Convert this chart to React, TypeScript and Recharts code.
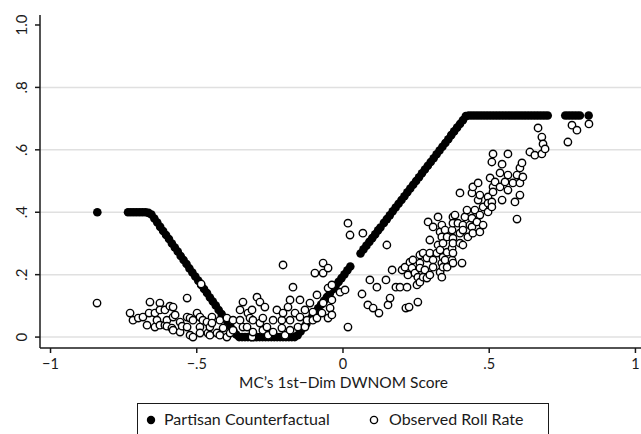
import React from "react";
import { ScatterChart, Scatter, XAxis, YAxis, CartesianGrid } from "recharts";

// axis ticks
const xTickValues = [-1, -0.5, 0, 0.5, 1];
const xTickLabels = ["−1", "−.5", "0", ".5", "1"];
const yTickValues = [0, 0.2, 0.4, 0.6, 0.8, 1];
const yTickLabels = ["0", ".2", ".4", ".6", ".8", "1.0"];
const yGridValues = [0, 0.2, 0.4, 0.6, 0.8];

// Partisan Counterfactual (filled dots)
const pcX = [
  -0.84, -0.735, -0.725, -0.715, -0.705, -0.695, -0.685, -0.675, -0.665,
  -0.655, -0.645, -0.635, -0.625, -0.615, -0.605, -0.595, -0.585, -0.575, -0.565,
  -0.555, -0.545, -0.535, -0.525, -0.515, -0.505, -0.495, -0.485, -0.475, -0.465,
  -0.455, -0.445, -0.435, -0.425, -0.415, -0.405, -0.395, -0.385, -0.375, -0.365,
  -0.355, -0.345, -0.335, -0.325, -0.315, -0.305, -0.295, -0.285, -0.275, -0.265,
  -0.255, -0.245, -0.235, -0.225, -0.215, -0.205, -0.195, -0.185, -0.175, -0.165,
  -0.155, -0.145, -0.135, -0.125, -0.115, -0.105, -0.095, -0.085, -0.075, -0.065,
  -0.055, -0.045, -0.035, -0.025, -0.015, -0.005, 0.005, 0.015, 0.025,
  0.06, 0.07, 0.08, 0.09, 0.1, 0.11, 0.12, 0.128,
  0.14, 0.15, 0.16, 0.17, 0.18, 0.19, 0.2, 0.21, 0.22, 0.23, 0.24, 0.25, 0.26, 0.27,
  0.28, 0.29, 0.3, 0.31, 0.32, 0.33, 0.34, 0.35, 0.36, 0.37, 0.38, 0.39, 0.4, 0.41, 0.42,
  0.43, 0.44, 0.45, 0.46, 0.47, 0.48, 0.49, 0.5, 0.51, 0.52, 0.53, 0.54, 0.55, 0.56,
  0.57, 0.58, 0.59, 0.6, 0.61, 0.62, 0.63, 0.64, 0.65, 0.66, 0.67, 0.68, 0.69, 0.7,
  0.76, 0.77, 0.78, 0.79, 0.8, 0.81, 0.84,
];
const pcY = [
  0.4, 0.4, 0.4, 0.4, 0.4, 0.4, 0.4, 0.4, 0.398,
  0.393, 0.38, 0.367, 0.353, 0.34, 0.327, 0.314, 0.3, 0.287, 0.274,
  0.26, 0.247, 0.234, 0.22, 0.207, 0.194, 0.181, 0.167, 0.154, 0.141,
  0.127, 0.114, 0.101, 0.087, 0.074, 0.061, 0.048, 0.034, 0.021, 0.008,
  0, 0, 0, 0, 0, 0, 0, 0, 0, 0,
  0, 0, 0, 0, 0, 0, 0, 0, 0, 0,
  0.006, 0.018, 0.031, 0.043, 0.055, 0.067, 0.079, 0.092, 0.104, 0.116,
  0.128, 0.14, 0.153, 0.165, 0.177, 0.189, 0.201, 0.214, 0.226,
  0.268, 0.281, 0.293, 0.305, 0.317, 0.329, 0.342, 0.351,
  0.366, 0.378, 0.39, 0.403, 0.415, 0.427, 0.439, 0.451, 0.464, 0.476, 0.488, 0.5, 0.512, 0.525,
  0.537, 0.549, 0.561, 0.573, 0.586, 0.598, 0.61, 0.622, 0.634, 0.647, 0.659, 0.671, 0.683, 0.695, 0.708,
  0.71, 0.71, 0.71, 0.71, 0.71, 0.71, 0.71, 0.71, 0.71, 0.71, 0.71, 0.71, 0.71, 0.71,
  0.71, 0.71, 0.71, 0.71, 0.71, 0.71, 0.71, 0.71, 0.71, 0.71, 0.71, 0.71, 0.71, 0.71,
  0.71, 0.71, 0.71, 0.71, 0.71, 0.71, 0.71,
];

// Observed Roll Rate (hollow circles), [x, y]
const observedLeft: [number, number][] = [
  [-0.841, 0.109],
  [-0.728, 0.077], [-0.718, 0.054], [-0.7, 0.061], [-0.684, 0.064], [-0.67, 0.038],
  [-0.66, 0.112], [-0.663, 0.077], [-0.643, 0.077], [-0.643, 0.032], [-0.636, 0.054],
  [-0.626, 0.109], [-0.626, 0.087], [-0.626, 0.038], [-0.609, 0.087], [-0.609, 0.038],
  [-0.602, 0.054], [-0.602, 0.035], [-0.592, 0.099], [-0.585, 0.029], [-0.581, 0.096],
  [-0.581, 0.064], [-0.581, 0.022], [-0.574, 0.071], [-0.557, 0.048], [-0.557, 0.016],
  [-0.55, 0.035], [-0.533, 0.125], [-0.533, 0.064], [-0.533, 0.032], [-0.523, 0.061],
  [-0.523, 0.006], [-0.513, 0.054], [-0.513, 0.0], [-0.499, 0.077], [-0.489, 0.064],
  [-0.489, 0.032], [-0.489, 0.013], [-0.485, 0.17], [-0.479, 0.054], [-0.465, 0.048],
  [-0.462, 0.013], [-0.455, 0.032], [-0.455, 0.006], [-0.448, 0.064], [-0.448, 0.045],
  [-0.431, 0.013], [-0.421, 0.054], [-0.421, 0.006], [-0.41, 0.029], [-0.397, 0.061],
  [-0.397, 0.0], [-0.386, 0.013], [-0.376, 0.054], [-0.376, 0.022], [-0.352, 0.087],
  [-0.352, 0.054], [-0.342, 0.112], [-0.342, 0.032],
];
const observedMiddle: [number, number][] = [
  [-0.328, 0.032], [-0.325, 0.077], [-0.318, 0.061], [-0.311, 0.087], [-0.311, 0.0],
  [-0.308, 0.054], [-0.308, 0.016], [-0.294, 0.128], [-0.284, 0.112], [-0.284, 0.045],
  [-0.274, 0.061], [-0.274, 0.022], [-0.267, 0.096], [-0.26, 0.032], [-0.256, 0.006],
  [-0.239, 0.054], [-0.239, 0.016], [-0.226, 0.087], [-0.209, 0.054], [-0.209, 0.029],
  [-0.205, 0.231], [-0.205, 0.077], [-0.198, 0.006], [-0.188, 0.096], [-0.181, 0.119],
  [-0.181, 0.054], [-0.181, 0.022], [-0.171, 0.16], [-0.164, 0.077], [-0.154, 0.032],
  [-0.147, 0.119], [-0.147, 0.064], [-0.13, 0.087], [-0.13, 0.032], [-0.123, 0.054],
  [-0.113, 0.109], [-0.103, 0.08], [-0.103, 0.054], [-0.096, 0.205], [-0.089, 0.135],
  [-0.089, 0.061], [-0.072, 0.077], [-0.068, 0.237], [-0.068, 0.205], [-0.068, 0.109],
  [-0.051, 0.221], [-0.051, 0.157], [-0.051, 0.061], [-0.044, 0.093], [-0.038, 0.167],
  [-0.038, 0.119], [-0.038, 0.071], [-0.01, 0.144], [0.007, 0.151], [0.017, 0.365],
  [0.017, 0.032], [0.024, 0.327],
];
const observedRight: [number, number][] = [
  [0.065, 0.138], [0.068, 0.333], [0.085, 0.103], [0.092, 0.183], [0.103, 0.093],
  [0.116, 0.16], [0.123, 0.077], [0.147, 0.183], [0.15, 0.295], [0.154, 0.103],
  [0.161, 0.125], [0.168, 0.215], [0.181, 0.16], [0.195, 0.16], [0.202, 0.215],
  [0.212, 0.224], [0.215, 0.093], [0.219, 0.16], [0.222, 0.199], [0.226, 0.096],
  [0.229, 0.24], [0.236, 0.221], [0.239, 0.247], [0.246, 0.205], [0.253, 0.167],
  [0.256, 0.112], [0.256, 0.192], [0.263, 0.263], [0.263, 0.237], [0.263, 0.221],
  [0.263, 0.176], [0.274, 0.269], [0.274, 0.192], [0.28, 0.215], [0.287, 0.253],
  [0.287, 0.189], [0.291, 0.369], [0.297, 0.311], [0.297, 0.269], [0.297, 0.199],
  [0.308, 0.353], [0.308, 0.247], [0.308, 0.224], [0.321, 0.269], [0.325, 0.385],
  [0.325, 0.295], [0.332, 0.337], [0.332, 0.279], [0.332, 0.208], [0.338, 0.359],
  [0.338, 0.321], [0.338, 0.237], [0.338, 0.192], [0.342, 0.301], [0.342, 0.256],
  [0.342, 0.224], [0.349, 0.343], [0.349, 0.247], [0.356, 0.321], [0.356, 0.272],
  [0.356, 0.224], [0.373, 0.343], [0.373, 0.285], [0.373, 0.247], [0.376, 0.385],
  [0.376, 0.365], [0.376, 0.317], [0.376, 0.301], [0.376, 0.269], [0.376, 0.237],
  [0.383, 0.391], [0.393, 0.365], [0.4, 0.462], [0.4, 0.333], [0.4, 0.301],
  [0.407, 0.237], [0.41, 0.359], [0.41, 0.343], [0.41, 0.295], [0.417, 0.385],
  [0.424, 0.407], [0.427, 0.321], [0.434, 0.359], [0.441, 0.462], [0.441, 0.381],
  [0.441, 0.353], [0.444, 0.481], [0.444, 0.333], [0.451, 0.407], [0.458, 0.369],
  [0.462, 0.494], [0.462, 0.439], [0.468, 0.455], [0.468, 0.391], [0.468, 0.337],
  [0.479, 0.417], [0.479, 0.359], [0.496, 0.449], [0.496, 0.429], [0.496, 0.401],
  [0.503, 0.51], [0.509, 0.561], [0.509, 0.433], [0.509, 0.417], [0.513, 0.587],
  [0.513, 0.481], [0.513, 0.465], [0.52, 0.497], [0.537, 0.526], [0.537, 0.481],
  [0.544, 0.554], [0.544, 0.439], [0.554, 0.497], [0.564, 0.587], [0.564, 0.519],
  [0.564, 0.471], [0.581, 0.494], [0.588, 0.433], [0.595, 0.519], [0.595, 0.378],
  [0.605, 0.542], [0.605, 0.494], [0.605, 0.455], [0.612, 0.558], [0.615, 0.513],
  [0.639, 0.593], [0.656, 0.583], [0.667, 0.67], [0.68, 0.641], [0.68, 0.587],
  [0.684, 0.619], [0.691, 0.603], [0.769, 0.625], [0.783, 0.679], [0.8, 0.663],
  [0.841, 0.683],
];

const partisanData = pcX.map((x, i) => ({ x, y: pcY[i] }));
const observedData = [...observedLeft, ...observedMiddle, ...observedRight].map(([x, y]) => ({ x, y }));

const FONT = "Lato, 'Open Sans', sans-serif";
const INK = "#1a1a1a";

const FilledDot = (p: any) => <circle cx={p.cx} cy={p.cy} r={4.3} fill="#000" />;
const HollowDot = (p: any) => (
  <circle cx={p.cx} cy={p.cy} r={3.7} fill="#fff" stroke="#000" strokeWidth={1.4} />
);

const YTick = (props: any) => {
  const { y, payload } = props;
  const label = yTickLabels[yTickValues.indexOf(payload.value)];
  return (
    <text
      x={21}
      y={y}
      transform={`rotate(-90, 21, ${y})`}
      textAnchor="middle"
      dominantBaseline="central"
      fontSize={15}
      fontFamily={FONT}
      fill={INK}
    >
      {label}
    </text>
  );
};

export default function App() {
  return (
    <div
      style={{
        position: "absolute",
        left: 0,
        top: 0,
        width: 641,
        height: 434,
        overflow: "hidden",
        background: "#fff",
        fontFamily: FONT,
      }}
    >
      <ScatterChart width={641} height={434} margin={{ top: 15, right: 0, bottom: 36, left: 0 }}>
        <CartesianGrid vertical={false} horizontalValues={yGridValues} stroke="#e0e0e0" strokeWidth={1.5} />
        <XAxis
          type="number"
          dataKey="x"
          domain={[-1.036, 1.019]}
          allowDataOverflow
          ticks={xTickValues}
          interval={0}
          tickFormatter={(v: number) => xTickLabels[xTickValues.indexOf(v)]}
          height={50}
          tickSize={5}
          tickMargin={6}
          axisLine={{ stroke: INK, strokeWidth: 1.5 }}
          tickLine={{ stroke: INK, strokeWidth: 1.5 }}
          tick={{ fill: INK, fontSize: 14.5, fontFamily: FONT }}
          label={{
            value: "MC’s 1st−Dim DWNOM Score",
            position: "insideBottom",
            offset: 10,
            dx: 3,
            fill: INK,
            fontSize: 15.5,
            fontFamily: FONT,
          }}
        />
        <YAxis
          type="number"
          dataKey="y"
          domain={[-0.035, 1.032]}
          allowDataOverflow
          ticks={yTickValues}
          interval={0}
          width={40}
          tickSize={5}
          axisLine={{ stroke: INK, strokeWidth: 1.5 }}
          tickLine={{ stroke: INK, strokeWidth: 1.5 }}
          tick={<YTick />}
        />
        <Scatter name="Partisan Counterfactual" data={partisanData} shape={FilledDot} isAnimationActive={false} />
        <Scatter name="Observed Roll Rate" data={observedData} shape={HollowDot} isAnimationActive={false} />
      </ScatterChart>

      <div
        style={{
          position: "absolute",
          left: 137,
          top: 403,
          width: 412,
          height: 40,
          boxSizing: "border-box",
          border: `1px solid ${INK}`,
          background: "#fff",
          fontSize: 16,
          color: INK,
        }}
      >
        <svg width={412} height={40} style={{ position: "absolute", left: 0, top: 0 }}>
          <circle cx={13} cy={16} r={4.2} fill="#000" />
          <circle cx={236} cy={16} r={3.6} fill="#fff" stroke="#000" strokeWidth={1.4} />
        </svg>
        <span style={{ position: "absolute", left: 26, top: 5, lineHeight: "20px", whiteSpace: "nowrap" }}>
          Partisan Counterfactual
        </span>
        <span style={{ position: "absolute", left: 251, top: 5, lineHeight: "20px", whiteSpace: "nowrap" }}>
          Observed Roll Rate
        </span>
      </div>
    </div>
  );
}
